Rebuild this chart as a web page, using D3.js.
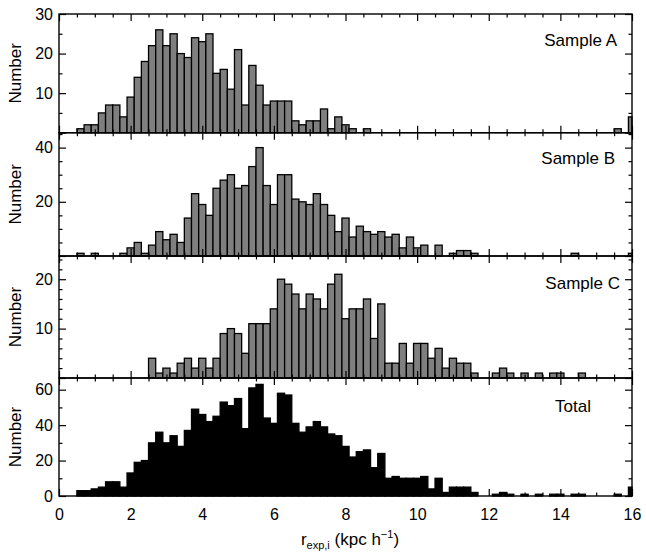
<!DOCTYPE html>
<html>
<head>
<meta charset="utf-8">
<script src="https://cdn.jsdelivr.net/npm/d3@7"></script>
<style>
    body { margin: 0; background: #fff; }
    text { font-family: "Liberation Sans", Arial, Helvetica, sans-serif; fill: #000; }
</style>
</head>
<body>
<svg id="hist-vis"></svg>
<script>
// Histograms of r_exp,i for the three samples and the total

// bins are 0.2 wide, centred on 0, 0.2, 0.4 ... 16
const binWidth = 0.2;
const binCenters = d3.range(81).map(k => Math.round(k * 2) / 10);

const sampleA = [
    0, 0, 0, 1, 2, 2, 5, 7, 7, 4,
    9, 14, 18, 22, 26, 22, 25, 20, 19, 24,
    23, 25, 15, 16, 11, 21, 7, 17, 12, 7,
    8, 8, 8, 3, 2, 3, 3, 6, 1, 4,
    2, 1, 0, 1, 0, 0, 0, 0, 0, 0,
    0, 0, 0, 0, 0, 0, 0, 0, 0, 0,
    0, 0, 0, 0, 0, 0, 0, 0, 0, 0,
    0, 0, 0, 0, 0, 0, 0, 0, 1, 0,
    4
];

const sampleB = [
    0, 0, 0, 1, 0, 1, 0, 0, 0, 1,
    3, 5, 1, 4, 9, 6, 8, 5, 14, 23,
    19, 15, 25, 28, 30, 25, 26, 33, 40, 26,
    19, 30, 30, 21, 20, 19, 23, 19, 15, 9,
    14, 7, 11, 9, 8, 9, 7, 8, 3, 7,
    3, 4, 0, 4, 0, 1, 2, 2, 1, 0,
    0, 0, 0, 0, 0, 0, 0, 0, 0, 0,
    0, 0, 1, 0, 0, 0, 0, 0, 0, 0,
    1
];

const sampleC = [
    0, 0, 0, 0, 0, 0, 0, 0, 0, 0,
    0, 0, 0, 4, 1, 2, 1, 3, 4, 2,
    4, 2, 4, 9, 10, 9, 5, 11, 11, 11,
    14, 20, 19, 17, 14, 17, 16, 14, 19, 21,
    12, 14, 14, 16, 8, 15, 3, 3, 7, 3,
    7, 7, 4, 6, 2, 4, 3, 3, 1, 0,
    0, 1, 2, 1, 0, 1, 0, 1, 0, 1,
    1, 0, 0, 1, 0, 0, 0, 0, 0, 0,
    0
];

const sampleTotal = [
    0, 0, 0, 3, 3, 4, 5, 8, 8, 5,
    13, 19, 20, 30, 36, 30, 34, 28, 37, 49,
    46, 42, 45, 53, 51, 55, 38, 61, 63, 44,
    41, 58, 57, 41, 36, 39, 42, 39, 35, 34,
    28, 22, 25, 26, 16, 24, 10, 11, 10, 10,
    10, 11, 4, 10, 2, 5, 5, 5, 2, 0,
    0, 1, 2, 1, 0, 1, 0, 1, 0, 1,
    1, 0, 1, 1, 0, 0, 0, 0, 1, 0,
    5
];

const panelNames = ["Sample A", "Sample B", "Sample C", "Total"];
const xMajorTicks = [0, 2, 4, 6, 8, 10, 12, 14, 16];
const xMinorTicks = [0.5, 1, 1.5, 2.5, 3, 3.5, 4.5, 5, 5.5, 6.5, 7, 7.5, 8.5, 9, 9.5,
    10.5, 11, 11.5, 12.5, 13, 13.5, 14.5, 15, 15.5];

// layout of the four stacked panels
const panels = [
    { name: panelNames[0], counts: sampleA, top: 14, bottom: 132.7, yMax: 30,
      major: [0, 10, 20, 30], labelled: [10, 20, 30], minor: [5, 15, 25],
      fill: "#7f7f7f", labelX: 617, labelY: 46 },
    { name: panelNames[1], counts: sampleB, top: 132.7, bottom: 256, yMax: 45.5,
      major: [0, 20, 40], labelled: [20, 40], minor: [5, 10, 15, 25, 30, 35, 45],
      fill: "#7f7f7f", labelX: 615, labelY: 164 },
    { name: panelNames[2], counts: sampleC, top: 256, bottom: 378, yMax: 24.7,
      major: [0, 10, 20], labelled: [10, 20], minor: [2, 4, 6, 8, 12, 14, 16, 18, 22, 24],
      fill: "#7f7f7f", labelX: 620, labelY: 289 },
    { name: panelNames[3], counts: sampleTotal, top: 378, bottom: 496, yMax: 66.6,
      major: [0, 20, 40, 60], labelled: [0, 20, 40, 60], minor: [10, 30, 50],
      fill: "#000", labelX: 591, labelY: 412 }
];

let margin = { left: 59, right: 14 };
let width = 646, height = 553;

let svg = d3.select("#hist-vis")
    .attr("width", width)
    .attr("height", height);

let xScale = d3.scaleLinear()
    .domain([0, 16])
    .range([margin.left, width - margin.right]);

function styleAxis(sel) {
    sel.select(".domain").remove();
    sel.selectAll(".tick line").attr("stroke", "#000").attr("stroke-width", 1.2);
    sel.selectAll(".tick text").style("font-size", "16px").attr("fill", "#000");
}

panels.forEach((p, pi) => {
    let yScale = d3.scaleLinear()
        .domain([0, p.yMax])
        .range([p.bottom, p.top]);

    let g = svg.append("g");

    let bins = binCenters.map((c, i) => ({ c: c, n: p.counts[i] }))
        .filter(d => d.n > 0);

    // bars, clipped to the 0-16 range
    g.selectAll("rect.bar")
        .data(bins)
        .join("rect")
        .attr("class", "bar")
        .attr("x", d => xScale(Math.max(0, d.c - binWidth / 2)))
        .attr("width", d => xScale(Math.min(16, d.c + binWidth / 2)) - xScale(Math.max(0, d.c - binWidth / 2)))
        .attr("y", d => yScale(d.n))
        .attr("height", d => yScale(0) - yScale(d.n))
        .attr("fill", p.fill)
        .attr("stroke", "#000")
        .attr("stroke-width", 1.3);

    // x ticks (inward, top and bottom)
    let isLast = pi === panels.length - 1;
    g.append("g")
        .attr("transform", `translate(0,${p.bottom})`)
        .call(d3.axisBottom(xScale).tickValues(xMajorTicks).tickSize(-7).tickPadding(13)
            .tickFormat(d => isLast ? d : ""))
        .call(styleAxis);
    g.append("g")
        .attr("transform", `translate(0,${p.bottom})`)
        .call(d3.axisBottom(xScale).tickValues(xMinorTicks).tickSize(-3.5).tickFormat(""))
        .call(styleAxis);
    g.append("g")
        .attr("transform", `translate(0,${p.top})`)
        .call(d3.axisTop(xScale).tickValues(xMajorTicks).tickSize(-7).tickFormat(""))
        .call(styleAxis);
    g.append("g")
        .attr("transform", `translate(0,${p.top})`)
        .call(d3.axisTop(xScale).tickValues(xMinorTicks).tickSize(-3.5).tickFormat(""))
        .call(styleAxis);

    // y ticks, left and right
    g.append("g")
        .attr("transform", `translate(${margin.left},0)`)
        .call(d3.axisLeft(yScale).tickValues(p.major).tickSize(-7).tickPadding(6)
            .tickFormat(d => p.labelled.includes(d) ? d : ""))
        .call(styleAxis);
    g.append("g")
        .attr("transform", `translate(${margin.left},0)`)
        .call(d3.axisLeft(yScale).tickValues(p.minor.filter(v => v < p.yMax)).tickSize(-3.5).tickFormat(""))
        .call(styleAxis);
    g.append("g")
        .attr("transform", `translate(${width - margin.right},0)`)
        .call(d3.axisRight(yScale).tickValues(p.major).tickSize(-7).tickFormat(""))
        .call(styleAxis);
    g.append("g")
        .attr("transform", `translate(${width - margin.right},0)`)
        .call(d3.axisRight(yScale).tickValues(p.minor.filter(v => v < p.yMax)).tickSize(-3.5).tickFormat(""))
        .call(styleAxis);

    // frame
    g.append("rect")
        .attr("x", margin.left)
        .attr("y", p.top)
        .attr("width", width - margin.right - margin.left)
        .attr("height", p.bottom - p.top)
        .attr("fill", "none")
        .attr("stroke", "#000")
        .attr("stroke-width", 1.4);

    // panel name
    g.append("text")
        .attr("x", p.labelX)
        .attr("y", p.labelY)
        .attr("text-anchor", "end")
        .style("font-size", "17px")
        .text(p.name);

    // y label
    g.append("text")
        .attr("transform", `translate(21,${(p.top + p.bottom) / 2}) rotate(-90)`)
        .attr("text-anchor", "middle")
        .style("font-size", "17px")
        .text("Number");
});

// x axis title
let title = svg.append("text")
    .attr("x", 350)
    .attr("y", 545)
    .attr("text-anchor", "middle")
    .style("font-size", "17px");
title.append("tspan").text("r");
title.append("tspan").attr("dy", 4).style("font-size", "11px").text("exp,i");
title.append("tspan").attr("dy", -4).text(" (kpc h");
title.append("tspan").attr("dy", -7).style("font-size", "11px").text("\u22121");
title.append("tspan").attr("dy", 7).text(")");
</script>
</body>
</html>
